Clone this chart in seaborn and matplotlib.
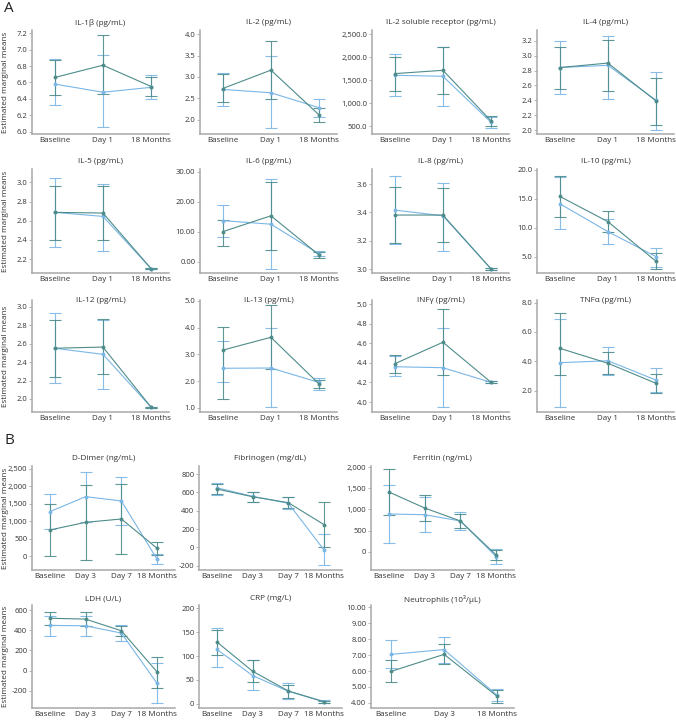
import matplotlib
matplotlib.use("Agg")
import matplotlib.pyplot as plt
from matplotlib.ticker import MultipleLocator, FuncFormatter
import numpy as np
import pandas as pd
import seaborn as sns

sns.set_style("ticks")
plt.rcParams["font.family"] = ["Open Sans", "DejaVu Sans"]

DARK = "#4e8c8a"
LIGHT = "#7ab6e6"

tp_a = ["Baseline", "Day 1", "18 Months"]
tp_b = ["Baseline", "Day 3", "Day 7", "18 Months"]
tp_neut = ["Baseline", "Day 3", "18 Months"]

# ---- panel A: cytokines ----
il1b_dark = [6.66, 6.81, 6.55]
il1b_dark_lo = [6.45, 6.46, 6.43]
il1b_dark_hi = [6.87, 7.18, 6.67]
il1b_light = [6.58, 6.48, 6.54]
il1b_light_lo = [6.32, 6.05, 6.40]
il1b_light_hi = [6.88, 6.93, 6.69]

il2_dark = [2.73, 3.16, 2.11]
il2_dark_lo = [2.41, 2.48, 1.94]
il2_dark_hi = [3.06, 3.84, 2.28]
il2_light = [2.71, 2.63, 2.28]
il2_light_lo = [2.32, 1.80, 2.06]
il2_light_hi = [3.10, 3.48, 2.48]

il2sr_dark = [1645, 1717, 615]
il2sr_dark_lo = [1261, 1196, 510]
il2sr_dark_hi = [2014, 2232, 720]
il2sr_light = [1609, 1587, 585]
il2sr_light_lo = [1152, 949, 470]
il2sr_light_hi = [2072, 2228, 700]

il4_dark = [2.84, 2.90, 2.39]
il4_dark_lo = [2.55, 2.52, 2.07]
il4_dark_hi = [3.12, 3.21, 2.70]
il4_light = [2.84, 2.87, 2.40]
il4_light_lo = [2.48, 2.42, 2.00]
il4_light_hi = [3.19, 3.26, 2.78]

il5_dark = [2.687, 2.68, 2.10]
il5_dark_lo = [2.395, 2.395, 2.095]
il5_dark_hi = [2.965, 2.965, 2.105]
il5_light = [2.687, 2.645, 2.10]
il5_light_lo = [2.33, 2.287, 2.095]
il5_light_hi = [3.04, 2.983, 2.105]

il6_dark = [10.0, 15.3, 2.2]
il6_dark_lo = [5.3, 3.8, 1.3]
il6_dark_hi = [13.8, 26.7, 3.1]
il6_light = [13.7, 12.5, 2.6]
il6_light_lo = [8.1, -2.5, 1.8]
il6_light_hi = [19.0, 27.5, 3.4]

il8_dark = [3.381, 3.381, 3.0]
il8_dark_lo = [3.186, 3.193, 2.995]
il8_dark_hi = [3.576, 3.569, 3.005]
il8_light = [3.416, 3.376, 3.0]
il8_light_lo = [3.176, 3.129, 2.995]
il8_light_hi = [3.659, 3.609, 3.005]

il10_dark = [15.43, 11.04, 4.16]
il10_dark_lo = [11.85, 9.31, 2.78]
il10_dark_hi = [18.96, 12.89, 5.55]
il10_light = [14.16, 9.31, 4.97]
il10_light_lo = [9.77, 7.11, 3.23]
il10_light_hi = [18.73, 11.45, 6.52]

il12_dark = [2.55, 2.563, 1.91]
il12_dark_lo = [2.242, 2.267, 1.905]
il12_dark_hi = [2.856, 2.866, 1.915]
il12_light = [2.55, 2.484, 1.91]
il12_light_lo = [2.177, 2.108, 1.905]
il12_light_hi = [2.928, 2.86, 1.915]

il13_dark = [3.16, 3.64, 1.89]
il13_dark_lo = [1.33, 2.45, 1.73]
il13_dark_hi = [4.01, 4.85, 2.05]
il13_light = [2.48, 2.49, 1.95]
il13_light_lo = [1.98, 1.04, 1.67]
il13_light_hi = [3.49, 3.98, 2.10]

infg_dark = [4.39, 4.61, 4.20]
infg_dark_lo = [4.30, 4.28, 4.19]
infg_dark_hi = [4.476, 4.946, 4.21]
infg_light = [4.36, 4.35, 4.20]
infg_light_lo = [4.27, 3.95, 4.19]
infg_light_hi = [4.47, 4.76, 4.21]

tnfa_dark = [4.89, 3.87, 2.50]
tnfa_dark_lo = [3.10, 3.12, 1.86]
tnfa_dark_hi = [7.28, 4.62, 3.14]
tnfa_light = [3.91, 4.04, 2.72]
tnfa_light_lo = [0.91, 3.08, 1.90]
tnfa_light_hi = [6.87, 4.96, 3.53]

# ---- panel B: other markers ----
ddim_dark = [745, 965, 1060, 220]
ddim_dark_lo = [0, -115, 50, 30]
ddim_dark_hi = [1500, 2020, 2050, 410]
ddim_light = [1270, 1700, 1576, -95]
ddim_light_lo = [775, 980, 890, -240]
ddim_light_hi = [1765, 2420, 2250, 50]

fib_dark = [637, 553, 488, 247]
fib_dark_lo = [585, 500, 430, 0]
fib_dark_hi = [690, 606, 545, 492]
fib_light = [651, 557, 481, -30]
fib_light_lo = [575, 490, 415, -193]
fib_light_hi = [700, 610, 548, 142]

ferr_dark = [1415, 1036, 728, -78]
ferr_dark_lo = [880, 728, 554, -197]
ferr_dark_hi = [1950, 1337, 893, 40]
ferr_light = [894, 877, 728, -118]
ferr_light_lo = [199, 474, 514, -295]
ferr_light_hi = [1581, 1290, 948, 60]

ldh_dark = [519, 510, 395, -13]
ldh_dark_lo = [448, 444, 345, -170]
ldh_dark_hi = [581, 581, 445, 134]
ldh_light = [448, 444, 372, -127]
ldh_light_lo = [346, 340, 294, -323]
ldh_light_hi = [542, 542, 451, 75]

crp_dark = [129.5, 68, 26.7, 4.1]
crp_dark_lo = [103, 45, 13, 2]
crp_dark_hi = [155, 92, 40, 6.5]
crp_light = [114, 59, 26, 4]
crp_light_lo = [78, 28, 9, 1]
crp_light_hi = [158, 91, 44, 7]

neut_dark = [5.98, 7.05, 4.42]
neut_dark_lo = [5.29, 6.43, 4.02]
neut_dark_hi = [6.67, 7.71, 4.82]
neut_light = [7.05, 7.35, 4.48]
neut_light_lo = [6.20, 6.52, 4.15]
neut_light_hi = [7.94, 8.16, 4.85]

W, H = 676, 721
fig = plt.figure(figsize=(W / 100, H / 100), dpi=100)

# (top, bottom, title y) in pixels
rows_a = [(30, 134, 23), (169, 273, 161.5), (300, 412, 301)]
cols_a = [32, 200, 372, 537]
rows_b = [(466, 570, 458), (605, 708, 599)]
cols_b = [32, 199, 371]


def fmt(kind):
    if kind == "f1":
        return FuncFormatter(lambda v, p: f"{v:.1f}")
    if kind == "f2":
        return FuncFormatter(lambda v, p: f"{v:.2f}")
    if kind == "c1":
        return FuncFormatter(lambda v, p: f"{v:,.1f}")
    if kind == "c0":
        return FuncFormatter(lambda v, p: f"{v:,.0f}")
    return FuncFormatter(lambda v, p: f"{v:.0f}")


def panel(row, col, width, title, labels, series, ylim, step, kind, xlim):
    top, bottom, ty = row
    ax = fig.add_axes([col / W, 1 - bottom / H, width / W, (bottom - top) / H])
    dark, dark_lo, dark_hi, light, light_lo, light_hi = series
    pos = np.arange(len(labels))
    df = pd.DataFrame({
        "pos": np.concatenate([pos, pos]),
        "mean": list(light) + list(dark),
        "group": ["light"] * len(pos) + ["dark"] * len(pos),
    })
    for m, lo, hi, c in [(light, light_lo, light_hi, LIGHT),
                         (dark, dark_lo, dark_hi, DARK)]:
        m, lo, hi = np.array(m), np.array(lo), np.array(hi)
        ax.errorbar(pos, m, yerr=[m - lo, hi - m], fmt="none", ecolor=c,
                    elinewidth=0.8, capsize=4.5, capthick=0.8, alpha=0.9)
    sns.lineplot(data=df, x="pos", y="mean", hue="group",
                 hue_order=["light", "dark"],
                 palette={"light": LIGHT, "dark": DARK},
                 marker="o", markersize=2.8, markeredgewidth=0,
                 linewidth=0.8, legend=False, sort=False, ax=ax)
    ax.set_xlim(*xlim)
    ax.set_ylim(*ylim)
    ax.set_xticks(pos)
    ax.set_xticklabels(labels)
    ax.yaxis.set_major_locator(MultipleLocator(step))
    ax.yaxis.set_major_formatter(fmt(kind))
    ax.set_xlabel("")
    ax.set_ylabel("")
    sns.despine(ax=ax)
    for s in ["left", "bottom"]:
        ax.spines[s].set_color("#a8a8a8")
        ax.spines[s].set_linewidth(1.1)
    ax.tick_params(axis="y", length=2.2, width=0.6, color="#a8a8a8",
                   labelsize=5.5, labelcolor="#333333", pad=1.2)
    ax.tick_params(axis="x", length=0, labelsize=5.8, labelcolor="#333333", pad=2.5)
    fig.text((col + width / 2) / W, 1 - ty / H, title, ha="center", va="center",
             fontsize=5.9, color="#333333")
    if col == cols_a[0]:
        fig.text(6 / W, 1 - (top + bottom) / 2 / H, "Estimated marginal means",
                 rotation=90, ha="center", va="center", fontsize=5.9, color="#333333")
    return ax


xa = (-0.47, 2.37)
xb = (-0.5, 3.5)
wa, wb = 137, 143

panel(rows_a[0], cols_a[0], wa, "IL-1β (pg/mL)", tp_a,
      (il1b_dark, il1b_dark_lo, il1b_dark_hi, il1b_light, il1b_light_lo, il1b_light_hi),
      (5.97, 7.24), 0.2, "f1", xa)
panel(rows_a[0], cols_a[1], wa, "IL-2 (pg/mL)", tp_a,
      (il2_dark, il2_dark_lo, il2_dark_hi, il2_light, il2_light_lo, il2_light_hi),
      (1.665, 4.10), 0.5, "f1", xa)
panel(rows_a[0], cols_a[2], wa, "IL-2 soluble receptor (pg/mL)", tp_a,
      (il2sr_dark, il2sr_dark_lo, il2sr_dark_hi, il2sr_light, il2sr_light_lo, il2sr_light_hi),
      (333, 2593), 500, "c1", xa)
panel(rows_a[0], cols_a[3], wa, "IL-4 (pg/mL)", tp_a,
      (il4_dark, il4_dark_lo, il4_dark_hi, il4_light, il4_light_lo, il4_light_hi),
      (1.948, 3.344), 0.2, "f1", xa)

panel(rows_a[1], cols_a[0], wa, "IL-5 (pg/mL)", tp_a,
      (il5_dark, il5_dark_lo, il5_dark_hi, il5_light, il5_light_lo, il5_light_hi),
      (2.055, 3.139), 0.2, "f1", xa)
panel(rows_a[1], cols_a[1], wa, "IL-6 (pg/mL)", tp_a,
      (il6_dark, il6_dark_lo, il6_dark_hi, il6_light, il6_light_lo, il6_light_hi),
      (-3.77, 30.9), 10, "f2", xa)
panel(rows_a[1], cols_a[2], wa, "IL-8 (pg/mL)", tp_a,
      (il8_dark, il8_dark_lo, il8_dark_hi, il8_light, il8_light_lo, il8_light_hi),
      (2.972, 3.706), 0.2, "f1", xa)
panel(rows_a[1], cols_a[3], wa, "IL-10 (pg/mL)", tp_a,
      (il10_dark, il10_dark_lo, il10_dark_hi, il10_light, il10_light_lo, il10_light_hi),
      (2.14, 20.17), 5, "f1", xa)

panel(rows_a[2], cols_a[0], wa, "IL-12 (pg/mL)", tp_a,
      (il12_dark, il12_dark_lo, il12_dark_hi, il12_light, il12_light_lo, il12_light_hi),
      (1.859, 3.073), 0.2, "f1", xa)
panel(rows_a[2], cols_a[1], wa, "IL-13 (pg/mL)", tp_a,
      (il13_dark, il13_dark_lo, il13_dark_hi, il13_light, il13_light_lo, il13_light_hi),
      (0.843, 5.037), 1, "f1", xa)
panel(rows_a[2], cols_a[2], wa, "INFγ (pg/mL)", tp_a,
      (infg_dark, infg_dark_lo, infg_dark_hi, infg_light, infg_light_lo, infg_light_hi),
      (3.898, 5.041), 0.2, "f1", xa)
panel(rows_a[2], cols_a[3], wa, "TNFα (pg/mL)", tp_a,
      (tnfa_dark, tnfa_dark_lo, tnfa_dark_hi, tnfa_light, tnfa_light_lo, tnfa_light_hi),
      (0.55, 8.18), 2, "f1", xa)

panel(rows_b[0], cols_b[0], wb, "D-Dimer (ng/mL)", tp_b,
      (ddim_dark, ddim_dark_lo, ddim_dark_hi, ddim_light, ddim_light_lo, ddim_light_hi),
      (-401, 2578), 500, "c0", xb)
panel(rows_b[0], cols_b[1], wb, "Fibrinogen (mg/dL)", tp_b,
      (fib_dark, fib_dark_lo, fib_dark_hi, fib_light, fib_light_lo, fib_light_hi),
      (-248, 889), 200, "c0", xb)
panel(rows_b[0], cols_b[2], wb, "Ferritin (ng/mL)", tp_b,
      (ferr_dark, ferr_dark_lo, ferr_dark_hi, ferr_light, ferr_light_lo, ferr_light_hi),
      (-434, 2031), 500, "c0", xb)

panel(rows_b[1], cols_b[0], wb, "LDH (U/L)", tp_b,
      (ldh_dark, ldh_dark_lo, ldh_dark_hi, ldh_light, ldh_light_lo, ldh_light_hi),
      (-370, 650), 200, "f0", xb)
panel(rows_b[1], cols_b[1], wb, "CRP (mg/L)", tp_b,
      (crp_dark, crp_dark_lo, crp_dark_hi, crp_light, crp_light_lo, crp_light_hi),
      (-9, 207), 50, "f0", xb)
panel(rows_b[1], cols_b[2], wb, "Neutrophils (10³/µL)", tp_neut,
      (neut_dark, neut_dark_lo, neut_dark_hi, neut_light, neut_light_lo, neut_light_hi),
      (3.68, 10.15), 1, "f2", (-0.38, 2.32))

fig.text(4 / W, 1 - 9 / H, "A", fontsize=11, va="center", ha="left", color="#222222")
fig.text(4 / W, 1 - 441 / H, "B", fontsize=11, va="center", ha="left", color="#222222")

fig.savefig("out.png", dpi=100)
